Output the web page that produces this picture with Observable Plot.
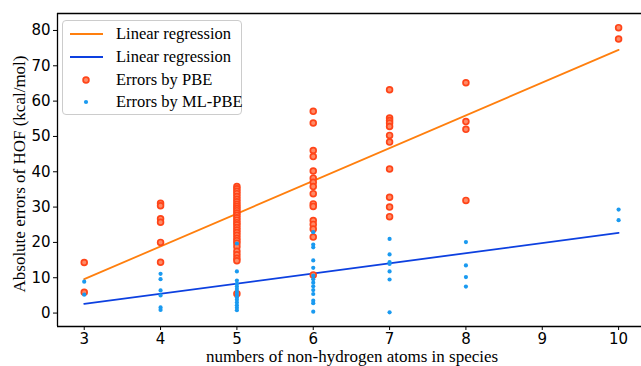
<!DOCTYPE html>
<html>
<head>
<meta charset="utf-8">
<script src="https://cdn.jsdelivr.net/npm/d3@7"></script>
<script src="https://cdn.jsdelivr.net/npm/@observablehq/plot@0.6"></script>
<style>
  html, body { margin: 0; padding: 0; background: #fff; }
  #wrap { position: relative; width: 641px; height: 366px; overflow: hidden; }
  #legend {
    position: absolute; left: 62px; top: 20px; width: 180px; height: 95px;
    border: 1.5px solid #cccccc; border-radius: 4px; background: rgba(255,255,255,0.85);
    font-family: "Liberation Serif", "Times New Roman", serif; font-size: 16.5px; color: #000;
    box-sizing: border-box;
  }
  .row { position: absolute; left: 0; height: 22px; display: flex; align-items: center; white-space: nowrap; }
  .row svg { width: 48px; height: 22px; }
  .row span { margin-left: 5px; }
</style>
</head>
<body>
<div id="wrap">
  <div id="chart"></div>
  <div id="legend"></div>
</div>
<script>
// ---- data ----
const atomCounts = [3, 4, 5, 6, 7, 8, 10];

const pbeErrors = [
  [14.3, 5.9],
  [31.1, 30.4, 26.7, 25.7, 20.0, 14.4],
  [35.8, 35.2, 34.5, 33.8, 33.0, 32.2, 31.5, 30.8, 30.2, 29.6, 29.0, 28.3, 27.7, 27.0,
   26.3, 25.6, 25.0, 24.2, 23.5, 22.8, 22.0, 21.2, 20.5, 19.8, 18.8, 17.5, 16.5, 15.5, 14.8, 5.5],
  [57.1, 53.8, 46.0, 44.3, 40.2, 38.2, 37.0, 35.8, 33.8, 30.9, 30.2, 26.2, 25.1, 23.8, 21.5, 10.8],
  [63.2, 55.2, 54.5, 53.8, 52.8, 50.3, 48.4, 40.8, 32.8, 30.0, 27.3],
  [65.2, 54.2, 52.0, 31.9],
  [80.8, 77.6]
];

const mlPbeErrors = [
  [8.9, 5.2],
  [11.1, 9.6, 6.4, 5.0, 1.6, 0.9],
  [19.7, 11.8, 9.2, 8.3, 7.5, 6.8, 6.0, 5.2, 4.5, 3.8, 3.0, 2.2, 1.5, 0.8],
  [22.9, 19.4, 18.6, 14.9, 12.8, 10.6, 9.6, 8.6, 7.6, 6.5, 5.4, 3.5, 2.8, 0.4],
  [21.0, 16.6, 14.4, 13.9, 11.8, 9.5, 0.2],
  [20.1, 13.5, 10.2, 7.5],
  [29.3, 26.3]
];

// regression fits (end points)
const fitAtoms = [3, 10];
const pbeFit = [9.6, 74.5];
const mlPbeFit = [2.6, 22.7];

const xTicks = [3, 4, 5, 6, 7, 8, 9, 10];
const yTicks = [0, 10, 20, 30, 40, 50, 60, 70, 80];

const xLabel = "numbers of non-hydrogen atoms in species";
const yLabel = "Absolute errors of HOF (kcal/mol)";
const legendLabels = ["Linear regression", "Linear regression", "Errors by PBE", "Errors by ML-PBE"];

// ---- colours ----
const cOrangeLine = "#ff7f0e";
const cBlueLine = "#0d40e0";
const cPbe = "#ff4519";
const cPbeFill = "#ff8a66";
const cMl = "#1a9af0";

// ---- build tables ----
const pbePts = atomCounts.flatMap((n, i) => pbeErrors[i].map(v => ({n, v})));
const mlPts = atomCounts.flatMap((n, i) => mlPbeErrors[i].map(v => ({n, v})));
const pbeLine = fitAtoms.map((n, i) => ({n, v: pbeFit[i]}));
const mlLine = fitAtoms.map((n, i) => ({n, v: mlPbeFit[i]}));

const plot = Plot.plot({
  width: 641,
  height: 366,
  marginLeft: 57,
  marginRight: 0,
  marginTop: 13,
  marginBottom: 40,
  style: {fontFamily: "DejaVu Sans, sans-serif", fontSize: "15px", color: "#000", background: "#fff"},
  x: {domain: [2.65, 10.3]},
  y: {domain: [-3.8, 84.8]},
  marks: [
    Plot.axisX({ticks: xTicks, tickSize: 4, tickPadding: 3, fontSize: 15, label: null, tickFormat: d => String(d)}),
    Plot.axisY({ticks: yTicks, tickSize: 4, tickPadding: 3, fontSize: 15, label: null, tickFormat: d => String(d)}),
    Plot.ruleY([-3.8], {stroke: "#000", strokeWidth: 1.3}),
    Plot.ruleY([84.8], {stroke: "#000", strokeWidth: 1.3}),
    Plot.ruleX([2.65], {stroke: "#000", strokeWidth: 1.3}),
    Plot.line(pbeLine, {x: "n", y: "v", stroke: cOrangeLine, strokeWidth: 1.8}),
    Plot.line(mlLine, {x: "n", y: "v", stroke: cBlueLine, strokeWidth: 1.8}),
    Plot.dot(pbePts, {x: "n", y: "v", r: 2.9, fill: cPbeFill, stroke: cPbe, strokeWidth: 1.7}),
    Plot.dot(mlPts, {x: "n", y: "v", r: 2.1, fill: cMl, stroke: "none"})
  ]
});

const svg = d3.select(plot);
svg.append("text")
  .attr("x", 352).attr("y", 362)
  .attr("text-anchor", "middle")
  .style("font-family", "'Liberation Serif', 'Times New Roman', serif")
  .style("font-size", "17px")
  .attr("fill", "#000")
  .text(xLabel);
svg.append("text")
  .attr("transform", "translate(25,174) rotate(-90)")
  .attr("text-anchor", "middle")
  .style("font-family", "'Liberation Serif', 'Times New Roman', serif")
  .style("font-size", "17px")
  .attr("fill", "#000")
  .text(yLabel);

document.getElementById("chart").appendChild(plot);

// ---- legend ----
const legend = document.getElementById("legend");
const swatches = [
  `<line x1="7" x2="40" y1="11" y2="11" stroke="${cOrangeLine}" stroke-width="2"/>`,
  `<line x1="7" x2="40" y1="11" y2="11" stroke="${cBlueLine}" stroke-width="2"/>`,
  `<circle cx="23" cy="11" r="2.9" fill="${cPbeFill}" stroke="${cPbe}" stroke-width="1.7"/>`,
  `<circle cx="23" cy="11" r="2.1" fill="${cMl}"/>`
];
const rowTops = [2, 25, 48, 70];
legendLabels.forEach((t, i) => {
  const row = document.createElement("div");
  row.className = "row";
  row.style.top = rowTops[i] + "px";
  row.innerHTML = `<svg>${swatches[i]}</svg><span>${t}</span>`;
  legend.appendChild(row);
});
</script>
</body>
</html>
